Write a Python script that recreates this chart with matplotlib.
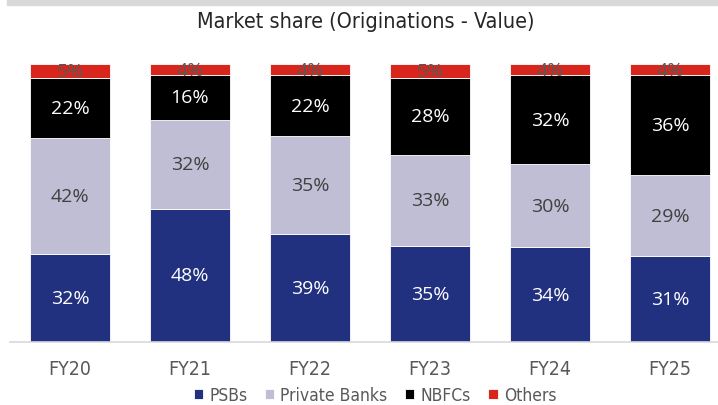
import matplotlib
matplotlib.use("Agg")
import matplotlib.pyplot as plt
import numpy as np

years = ["FY20", "FY21", "FY22", "FY23", "FY24", "FY25"]
psbs = [32, 48, 39, 35, 34, 31]
private_banks = [42, 32, 35, 33, 30, 29]
nbfcs = [22, 16, 22, 28, 32, 36]
others = [5, 4, 4, 5, 4, 4]

series_names = ["PSBs", "Private Banks", "NBFCs", "Others"]
colors = ["#22317f", "#c0bed5", "#000000", "#d9261c"]
label_colors = ["white", "#404040", "white", "#595959"]

plt.rcParams['font.family'] = ['DejaVu Sans']
plt.rcParams['font.stretch'] = 'condensed'

fig = plt.figure(figsize=(7.18, 4.06), dpi=100)
# grey strip at the top (cut off header)
fig.patches.append(plt.Rectangle((7/718, 1 - 6/406), 1, 6/406, transform=fig.transFigure,
                                 color="#d9d9d9", zorder=0))

ax = fig.add_axes([10/718, 63/406, 708/718, 278/406])

data = np.array([psbs, private_banks, nbfcs, others], dtype=float)
totals = data.sum(axis=0)
shares = data / totals * 100  # 100% stacked

x = np.arange(len(years))
bottom = np.zeros(len(years))
for i, name in enumerate(series_names):
    ax.bar(x, shares[i], 0.66, bottom=bottom, color=colors[i], label=name,
           edgecolor="white", linewidth=0.6)
    for j in range(len(years)):
        yc = bottom[j] + shares[i][j] / 2
        ax.text(x[j], yc, "%d%%" % data[i][j], ha="center", va="center",
                color=label_colors[i], fontsize=14, family=['Open Sans', 'DejaVu Sans'],
                fontstretch='normal')
    bottom += shares[i]

ax.set_xlim(-0.5, 5.4)
ax.set_ylim(0, 100)
ax.set_yticks([])
for s in ["top", "left", "right"]:
    ax.spines[s].set_visible(False)
ax.spines["bottom"].set_color("#d9d9d9")
ax.spines["bottom"].set_linewidth(1.2)
ax.set_xticks(x)
ax.set_xticklabels(years, fontsize=14, color="#595959")
ax.tick_params(axis="x", length=0, pad=12)

fig.text(366/718, 1 - 22/406, "Market share (Originations - Value)", ha="center", va="center",
         fontsize=15.5, color="#262626")

fig.legend(loc="center", bbox_to_anchor=(375/718, 1 - 396/406), ncol=4, frameon=False,
           fontsize=12.5, handlelength=0.55, handleheight=0.55, handletextpad=0.35,
           columnspacing=1.0, labelcolor="#595959")

fig.savefig("out.png", dpi=100)
